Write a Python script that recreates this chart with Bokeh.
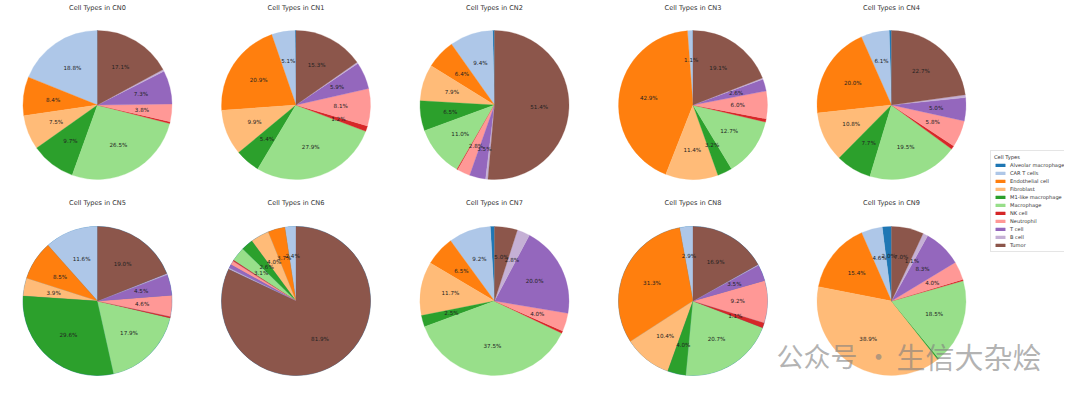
import numpy as np
from bokeh.plotting import figure
from bokeh.models import ColumnDataSource, Range1d, Legend, LegendItem
from bokeh.core.properties import value
from bokeh.embed import file_html
from bokeh.resources import INLINE

cell_types = ["Alveolar macrophage", "CAR T cells", "Endothelial cell", "Fibroblast",
              "M1-like macrophage", "Macrophage", "NK cell", "Neutrophil", "T cell",
              "B cell", "Tumor"]
colors = ["#1f77b4", "#aec7e8", "#ff7f0e", "#ffbb78", "#2ca02c", "#98df8a",
          "#d62728", "#ff9896", "#9467bd", "#c5b0d5", "#8c564b"]
neighborhoods = ["CN0", "CN1", "CN2", "CN3", "CN4", "CN5", "CN6", "CN7", "CN8", "CN9"]

# percentages per neighborhood, in cell_types order
cn0 = [0.1, 18.8, 8.4, 7.5, 9.7, 26.5, 0.4, 3.8, 7.3, 0.4, 17.1]
cn1 = [0.2, 5.1, 20.9, 9.9, 5.4, 27.9, 1.2, 8.1, 5.9, 0.3, 15.3]
cn2 = [0.4, 9.4, 6.4, 7.9, 6.5, 11.0, 0.2, 2.8, 3.5, 0.5, 51.4]
cn3 = [0.1, 1.1, 42.9, 11.4, 3.2, 12.7, 0.7, 6.0, 2.6, 0.3, 19.1]
cn4 = [0.5, 6.1, 20.0, 10.8, 7.7, 19.5, 0.8, 5.8, 5.0, 0.6, 22.7]
cn5 = [0.0, 11.6, 8.5, 3.9, 29.6, 17.9, 0.3, 4.6, 4.5, 0.3, 19.0]
cn6 = [0.0, 2.4, 3.7, 4.0, 2.6, 3.1, 0.2, 0.9, 0.8, 0.3, 81.9]
cn7 = [0.9, 9.2, 6.5, 11.7, 2.5, 37.5, 0.5, 4.0, 20.0, 2.8, 5.0]
cn8 = [0.0, 2.9, 31.3, 10.4, 4.0, 20.7, 1.1, 9.2, 3.5, 0.2, 16.9]
cn9 = [2.0, 4.6, 15.4, 38.9, 0.3, 18.5, 0.3, 4.0, 8.3, 1.1, 7.0]
all_values = [cn0, cn1, cn2, cn3, cn4, cn5, cn6, cn7, cn8, cn9]

W, H = 1064, 382
p = figure(width=W, height=H, output_backend="svg", toolbar_location=None,
           x_range=Range1d(0, W), y_range=Range1d(398 - H, 398),
           min_border=0, outline_line_color=None, background_fill_color="white")
p.axis.visible = False
p.grid.visible = False

def sy(y):
    # screen y (from top of picture) -> data y
    return 398 - y

R = 74.5
col_x = [97 + 198.5 * i for i in range(5)]
row_y = [104.5, 300.5]
title_y = [7.5, 202.5]

renderers = []
for k, (name, vals) in enumerate(zip(neighborhoods, all_values)):
    r_i, c_i = divmod(k, 5)
    cx, cy = col_x[c_i], sy(row_y[r_i])
    v = np.array(vals, dtype=float)
    frac = v / v.sum()
    cum = np.concatenate([[0], np.cumsum(frac)])
    start = np.pi / 2 + 2 * np.pi * cum[:-1]
    end = np.pi / 2 + 2 * np.pi * cum[1:]
    src = ColumnDataSource(dict(start=start, end=end, color=colors, name=cell_types))
    r = p.wedge(x=cx, y=cy, radius=R, start_angle="start", end_angle="end",
                fill_color="color", line_color="color", line_width=0.3, source=src)
    renderers.append(r)
    mid = (start + end) / 2
    lx, ly, lt = [], [], []
    for val, m in zip(vals, mid):
        if val > 1.0:
            lx.append(cx + 0.6 * R * np.cos(m))
            ly.append(cy + 0.6 * R * np.sin(m))
            lt.append(f"{val:.1f}%")
    p.text(x=lx, y=ly, text=lt, text_align="center", text_baseline="middle",
           text_font=value("DejaVu Sans"), text_font_size="5.6px", text_color="#222222")
    p.text(x=[cx], y=[sy(title_y[r_i])], text=[f"Cell Types in {name}"],
           text_align="center", text_baseline="middle",
           text_font=value("DejaVu Sans"), text_font_size="6.6px", text_color="#333333")

items = [LegendItem(label=ct, renderers=[renderers[0]], index=i) for i, ct in enumerate(cell_types)]
legend = Legend(items=items, location=(990, 130), title="Cell Types",
                title_text_font="DejaVu Sans", title_text_font_size="5.2px",
                title_text_font_style="normal", title_text_color="#333333",
                title_standoff=2,
                label_text_font="DejaVu Sans", label_text_font_size="5.1px",
                label_text_color="#333333",
                glyph_width=12, glyph_height=4, label_height=4, label_standoff=4,
                spacing=2, padding=3, margin=0,
                border_line_color="#cccccc", border_line_width=0.8,
                background_fill_color="white", background_fill_alpha=0.9)
p.add_layout(legend, "center")

# watermark
p.text(x=[776], y=[sy(355)], text=["公众号"], text_align="left", text_baseline="middle",
       text_font=value("Noto Sans CJK SC"), text_font_size="27px",
       text_color="#808080", text_alpha=0.6)
p.text(x=[878], y=[sy(355)], text=["·"], text_align="center", text_baseline="middle",
       text_font=value("Noto Sans CJK SC"), text_font_size="27px",
       text_color="#808080", text_alpha=0.6)
p.text(x=[896], y=[sy(355)], text=["生信大杂烩"], text_align="left", text_baseline="middle",
       text_font=value("Noto Sans CJK SC"), text_font_size="29px",
       text_color="#808080", text_alpha=0.6)

open("out.html", "w").write(file_html(p, INLINE))
